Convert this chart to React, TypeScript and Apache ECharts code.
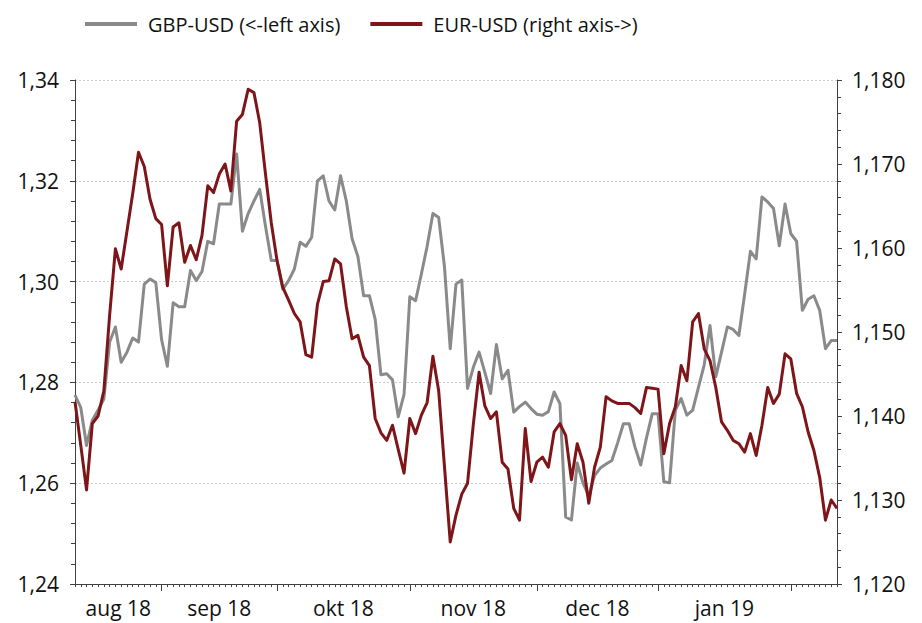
import React, { useEffect, useRef } from "react";
import * as echarts from "echarts";

// ---------- data ----------
const START_DATE = "2018-08-13";
const POINT_COUNT = 133;

function businessDays(startIso: string, count: number): string[] {
  const out: string[] = [];
  const d = new Date(startIso + "T00:00:00Z");
  while (out.length < count) {
    const wd = d.getUTCDay();
    if (wd !== 0 && wd !== 6) out.push(d.toISOString().slice(0, 10));
    d.setUTCDate(d.getUTCDate() + 1);
  }
  return out;
}

const dates: string[] = businessDays(START_DATE, POINT_COUNT);

const monthLabels: string[] = ["aug 18", "sep 18", "okt 18", "nov 18", "dec 18", "jan 19"];

const gbpUsd: number[] = [
  1.2775, 1.2750, 1.2675, 1.2725, 1.2745, 1.2767, 1.2880, 1.2910, 1.2840, 1.2860,
  1.2888, 1.2880, 1.2995, 1.3005, 1.2998, 1.2885, 1.2832, 1.2958, 1.2950, 1.2950,
  1.3022, 1.3002, 1.3020, 1.3080, 1.3075, 1.3154, 1.3154, 1.3154, 1.3253, 1.3100,
  1.3135, 1.3160, 1.3183, 1.3110, 1.3042, 1.3042, 1.2985, 1.3002, 1.3025, 1.3078,
  1.3070, 1.3088, 1.3200, 1.3210, 1.3160, 1.3142, 1.3210, 1.3160, 1.3085, 1.3050,
  1.2972, 1.2972, 1.2925, 1.2815, 1.2817, 1.2805, 1.2732, 1.2776, 1.2970, 1.2962,
  1.3015, 1.3070, 1.3135, 1.3127, 1.3030, 1.2867, 1.2995, 1.3003, 1.2788, 1.2830,
  1.2860, 1.2820, 1.2778, 1.2875, 1.2807, 1.2824, 1.2741, 1.2752, 1.2761, 1.2748,
  1.2737, 1.2735, 1.2742, 1.2781, 1.2758, 1.2533, 1.2527, 1.2640, 1.2600, 1.2575,
  1.2615, 1.2630, 1.2638, 1.2645, 1.2680, 1.2718, 1.2718, 1.2672, 1.2636, 1.2690,
  1.2738, 1.2738, 1.2603, 1.2601, 1.2745, 1.2768, 1.2735, 1.2745, 1.2790, 1.2835,
  1.2913, 1.2811, 1.2860, 1.2910, 1.2905, 1.2893, 1.2975, 1.3060, 1.3045, 1.3168,
  1.3158, 1.3145, 1.3071, 1.3154, 1.3095, 1.3080, 1.2943, 1.2965, 1.2972, 1.2943,
  1.2867, 1.2883, 1.2883,
];

const eurUsd: number[] = [
  1.1417, 1.1365, 1.1312, 1.1391, 1.1400, 1.1430, 1.1520, 1.1599, 1.1575, 1.1620,
  1.1665, 1.1714, 1.1697, 1.1658, 1.1635, 1.1628, 1.1555, 1.1625, 1.1630, 1.1583,
  1.1603, 1.1586, 1.1615, 1.1674, 1.1666, 1.1688, 1.1700, 1.1668, 1.1751, 1.1759,
  1.1789, 1.1785, 1.1749, 1.1688, 1.1630, 1.1585, 1.1553, 1.1538, 1.1522, 1.1512,
  1.1473, 1.1470, 1.1533, 1.1560, 1.1561, 1.1587, 1.1581, 1.1530, 1.1492, 1.1496,
  1.1470, 1.1460, 1.1397, 1.1380, 1.1371, 1.1389, 1.1360, 1.1332, 1.1397, 1.1379,
  1.1401, 1.1416, 1.1471, 1.1430, 1.1340, 1.1250, 1.1282, 1.1307, 1.1320, 1.1390,
  1.1452, 1.1412, 1.1397, 1.1405, 1.1345, 1.1337, 1.1290, 1.1276, 1.1385, 1.1322,
  1.1345, 1.1351, 1.1339, 1.1381, 1.1391, 1.1377, 1.1324, 1.1367, 1.1345, 1.1296,
  1.1339, 1.1363, 1.1423, 1.1418, 1.1415, 1.1415, 1.1415, 1.1410, 1.1403, 1.1434,
  1.1433, 1.1432, 1.1355, 1.1391, 1.1411, 1.1460, 1.1442, 1.1512, 1.1522, 1.1480,
  1.1466, 1.1434, 1.1393, 1.1383, 1.1371, 1.1367, 1.1357, 1.1379, 1.1353, 1.1389,
  1.1434, 1.1415, 1.1426, 1.1474, 1.1468, 1.1427, 1.1411, 1.1381, 1.1359, 1.1327,
  1.1276, 1.1300, 1.1290,
];

const GBP_NAME = "GBP-USD (<-left axis)";
const EUR_NAME = "EUR-USD (right axis->)";

// month boundaries (first business day of each month) and label centres
const monthStarts: number[] = [];
for (let i = 1; i < dates.length; i++) {
  if (dates[i].slice(0, 7) !== dates[i - 1].slice(0, 7)) monthStarts.push(i);
}
const bounds = [0, ...monthStarts];
const labelPositions: number[] = monthLabels.map((_, k) => (bounds[k] + bounds[k + 1]) / 2);

// ---------- styles ----------
const FONT = "'Open Sans', 'Noto Sans', sans-serif";
const AXIS = "#404040";
const GRAY = "#8a8a8a";
const RED = "#7e1519";
const TEXT = "#111111";

export default function App() {
  const ref = useRef<HTMLDivElement>(null);

  useEffect(() => {
    if (!ref.current) return;
    const chart = echarts.init(ref.current, undefined, { renderer: "svg" });
    const option: any = {
      animation: false,
      backgroundColor: "#ffffff",
      textStyle: { fontFamily: FONT },
      legend: {
        left: 80,
        top: 9,
        icon: "rect",
        itemWidth: 52,
        itemHeight: 4,
        itemGap: 30,
        textStyle: { fontSize: 20, color: TEXT, fontFamily: FONT, padding: [0, 0, 0, 6] },
        data: [GBP_NAME, EUR_NAME],
      },
      grid: { left: 75, right: 85, top: 80, bottom: 39, containLabel: false },
      xAxis: [
        {
          type: "category",
          data: dates,
          boundaryGap: false,
          position: "bottom",
          axisLine: { show: true, onZero: false, lineStyle: { color: AXIS, width: 1 } },
          axisTick: { show: true, interval: 0, length: 3, lineStyle: { color: AXIS } },
          axisLabel: { show: false },
          splitLine: { show: false },
        },
        {
          type: "value",
          min: 0,
          max: dates.length - 1,
          position: "bottom",
          axisLine: { show: false, onZero: false },
          axisTick: { show: true, customValues: monthStarts, length: 7, lineStyle: { color: AXIS } },
          axisLabel: {
            show: true,
            customValues: labelPositions,
            formatter: (v: number) => {
              const k = labelPositions.findIndex((p) => Math.abs(p - v) < 0.01);
              return k >= 0 ? monthLabels[k] : "";
            },
            fontSize: 21,
            color: TEXT,
            fontFamily: FONT,
            margin: 13,
          },
          splitLine: { show: false },
        },
      ],
      yAxis: [
        {
          type: "value",
          position: "left",
          min: 1.24,
          max: 1.34,
          interval: 0.02,
          axisLine: { show: true, onZero: false, lineStyle: { color: AXIS } },
          axisTick: { show: true, length: 5, lineStyle: { color: AXIS } },
          minorTick: { show: true, splitNumber: 5, length: 4, lineStyle: { color: AXIS } },
          axisLabel: {
            formatter: (v: number) => v.toFixed(2).replace(".", ","),
            fontSize: 21,
            color: TEXT,
            fontFamily: FONT,
            margin: 16,
          },
          splitLine: { show: true, lineStyle: { color: "#cccccc", type: [2, 2], width: 1 } },
        },
        {
          type: "value",
          position: "right",
          min: 1.12,
          max: 1.18,
          interval: 0.01,
          axisLine: { show: true, onZero: false, lineStyle: { color: AXIS } },
          axisTick: { show: true, length: 5, lineStyle: { color: AXIS } },
          minorTick: { show: true, splitNumber: 5, length: 4, lineStyle: { color: AXIS } },
          axisLabel: {
            formatter: (v: number) => v.toFixed(3).replace(".", ","),
            fontSize: 21,
            color: TEXT,
            fontFamily: FONT,
            margin: 15,
          },
          splitLine: { show: false },
        },
      ],
      series: [
        {
          name: GBP_NAME,
          type: "line",
          xAxisIndex: 0,
          yAxisIndex: 0,
          data: gbpUsd,
          symbol: "none",
          lineStyle: { color: GRAY, width: 3, join: "round" },
          itemStyle: { color: GRAY },
          z: 2,
        },
        {
          name: EUR_NAME,
          type: "line",
          xAxisIndex: 0,
          yAxisIndex: 1,
          data: eurUsd,
          symbol: "none",
          lineStyle: { color: RED, width: 3, join: "round" },
          itemStyle: { color: RED },
          z: 3,
        },
      ],
    };
    chart.setOption(option);
    return () => chart.dispose();
  }, []);

  return (
    <div
      ref={ref}
      style={{ position: "fixed", left: 0, top: 0, width: 922, height: 623, background: "#fff" }}
    />
  );
}
